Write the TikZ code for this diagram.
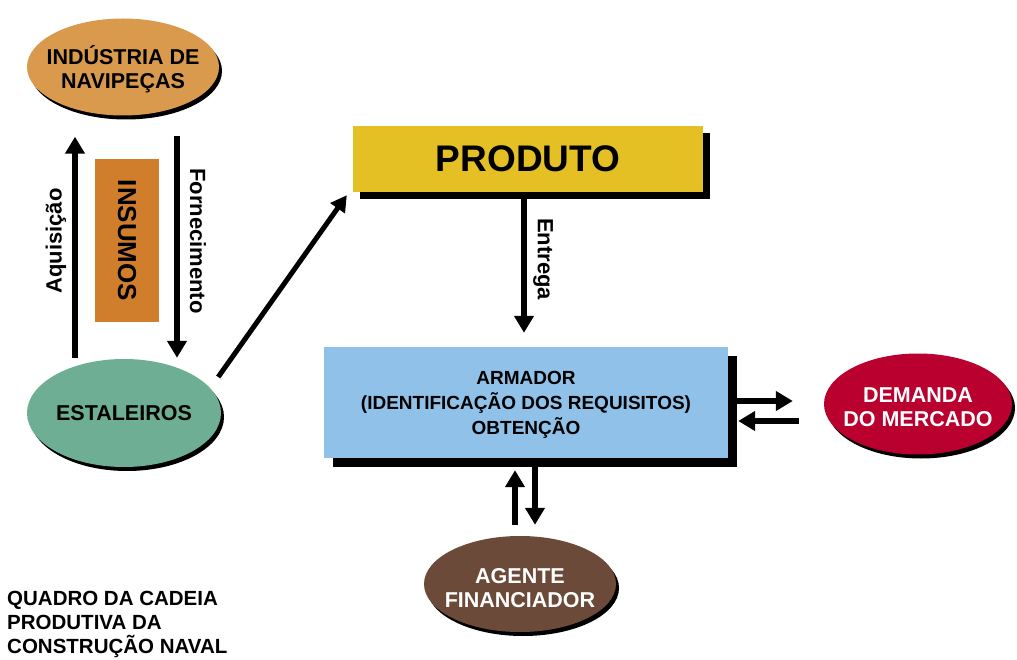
\documentclass[tikz,border=0pt]{standalone}
\usepackage{fontspec}
\setmainfont{Liberation Sans}
\usetikzlibrary{shapes.geometric,arrows.meta,shadows}
\definecolor{cInd}{HTML}{D99A4E}
\definecolor{cEst}{HTML}{6DAE95}
\definecolor{cIns}{HTML}{D07E2C}
\definecolor{cProd}{HTML}{E5C025}
\definecolor{cArm}{HTML}{8FC1E9}
\definecolor{cDem}{HTML}{B9002F}
\definecolor{cAg}{HTML}{6B4A39}
\begin{document}
\begin{tikzpicture}[x=1pt,y=-1pt,
  oval/.style={ellipse, inner sep=0pt,
    drop shadow={shadow xshift=3pt, shadow yshift=-4pt, fill=black, opacity=1}},
  ovaltext/.style={inner sep=0pt, align=center,
    font=\bfseries\fontsize{21.5}{24.5}\selectfont},
  box/.style={rectangle, inner sep=0pt, align=center},
  arr/.style={line width=6pt, -{Triangle[length=17pt,width=19pt]}},
  thinarr/.style={line width=5pt, -{Triangle[length=16pt,width=17pt]}},
  lbl/.style={font=\bfseries\fontsize{22}{24}\selectfont, inner sep=0pt}
]
\useasboundingbox (0,0) rectangle (1017,660);

% nodes
\node[oval, fill=cInd, minimum width=192pt, minimum height=97pt] (ind) at (123,67) {};
\node[ovaltext] (indt) at ([yshift=-2pt]ind.center) {INDÚSTRIA DE\\NAVIPEÇAS};
\node[oval, fill=cEst, minimum width=194pt, minimum height=108pt] (est) at (124,413) {};
\node[ovaltext] (estt) at (est.center) {ESTALEIROS};
\node[box, fill=cIns, rotate=-90, minimum width=163pt, minimum height=64pt,
  font=\bfseries\fontsize{26}{30}\selectfont] (ins) at (127,240.5) {INSUMOS};
\node[box, fill=cProd, minimum width=350pt, minimum height=66pt,
  font=\bfseries\fontsize{37}{40}\selectfont,
  drop shadow={shadow xshift=7pt, shadow yshift=-7pt, fill=black, opacity=1}]
  (prod) at (528,159) {PRODUTO};
\node[box, fill=cArm, minimum width=404pt, minimum height=111pt,
  drop shadow={shadow xshift=9pt, shadow yshift=-9pt, fill=black, opacity=1}]
  (arm) at (526,402.5) {};
\node[box, font=\bfseries\fontsize{19}{25}\selectfont] (armt) at ([yshift=-2pt]arm.center)
  {ARMADOR\\(IDENTIFICAÇÃO DOS REQUISITOS)\\OBTENÇÃO};
\node[oval, fill=cDem, minimum width=188pt, minimum height=101pt] (dem) at (918,404) {};
\node[ovaltext, text=white] (demt) at ([yshift=-3pt]dem.center) {DEMANDA\\DO MERCADO};
\node[oval, fill=cAg, minimum width=192pt, minimum height=96pt] (ag) at (520,584) {};
\node[ovaltext, text=white] (agt) at ([yshift=-4pt]ag.center) {AGENTE\\FINANCIADOR};

% labels
\node[lbl, rotate=90] (laq) at (56,241) {Aquisição};
\node[lbl, rotate=-90] (lfo) at (198,241) {Fornecimento};
\node[lbl, rotate=-90] (len) at (543,259) {Entrega};
\node[anchor=north west, align=left, inner sep=0pt,
  font=\bfseries\fontsize{20.5}{24}\selectfont] (title) at (7,591)
  {QUADRO DA CADEIA\\PRODUTIVA DA\\CONSTRUÇÃO NAVAL};

% connectors
\draw[arr] ([xshift=-49pt,yshift=1pt]est.north) -- ([xshift=-48pt,yshift=-21pt]ind.south);
\draw[arr] ([xshift=54pt,yshift=-20pt]ind.south) -- ([xshift=53pt,yshift=1pt]est.north);
\draw[thinarr] ([xshift=-3pt,yshift=36pt]est.east) -- ([xshift=-6pt,yshift=-3pt]prod.south west);
\draw[arr] ([xshift=-4pt,yshift=-7pt]prod.south) -- ([xshift=-2pt,yshift=14pt]arm.north);

\coordinate (r1s) at ([xshift=9pt,yshift=1.5pt]arm.east);
\coordinate (r1e) at ([xshift=-31pt,yshift=3pt]dem.west);
\coordinate (r2s) at ([xshift=-25pt,yshift=-17pt]dem.west);
\coordinate (r2e) at ([xshift=10pt,yshift=-18.5pt]arm.east);
\draw[arr] (r1s) -- (r1s -| r1e);
\draw[arr] (r2s) -- (r2s -| r2e);

\draw[arr] ([xshift=-5pt,yshift=11pt]ag.north) -- ([xshift=-11pt,yshift=-12pt]arm.south);
\draw[arr] ([xshift=9pt,yshift=-9pt]arm.south) -- ([xshift=15pt,yshift=11pt]ag.north);
\end{tikzpicture}
\end{document}
